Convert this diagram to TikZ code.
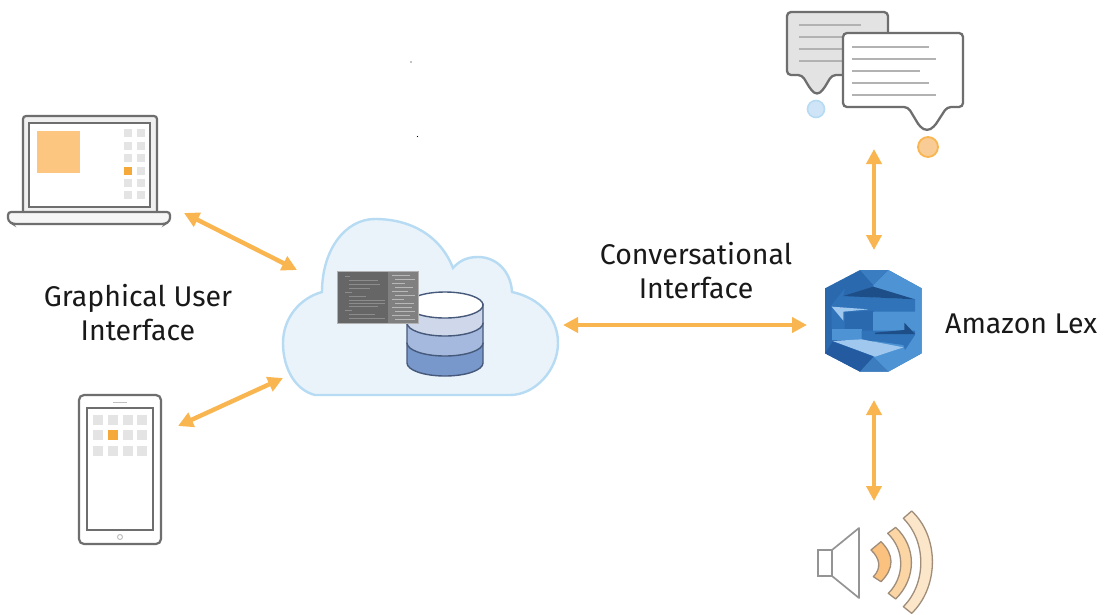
\documentclass[tikz,border=0pt]{standalone}
\usepackage{fontspec}
\setmainfont{Fira Sans}
\usetikzlibrary{arrows.meta}
\definecolor{arrowor}{HTML}{F9B650}
\definecolor{edgegray}{HTML}{6E6E6E}
\definecolor{cellgray}{HTML}{E4E4E4}
\definecolor{cellor}{HTML}{F6A93B}
\definecolor{cloudfill}{HTML}{EAF3FA}
\definecolor{cloudedge}{HTML}{B6DBF3}
\definecolor{dbedge}{HTML}{46597A}
\tikzset{
  biarrow/.style={draw=arrowor,line width=4.4pt,{Triangle[length=15pt,width=15pt]}-{Triangle[length=15pt,width=15pt]}},
  anchorpt/.style={inner sep=0pt,minimum size=0pt,outer sep=0pt},
  label text/.style={text=black!90,font=\fontsize{28.5}{33}\selectfont,align=center,inner sep=0pt},
  device/.style={draw=edgegray,line width=2.2pt,rounded corners=3pt},
  bubbleline/.style={draw=black!30,line width=1.6pt},
  wave/.style={draw=black!50!brown!60,line width=1.3pt,line join=round},
}
\begin{document}
\begin{tikzpicture}[x=1pt,y=-1pt]
\useasboundingbox (0,0) rectangle (1108,614);
\fill[white] (0,0) rectangle (1108,614);
% stray dots
\fill[black] (411,62) circle (0.7);
\fill[black] (417.5,136.5) circle (0.7);

% laptop
\draw[device,fill=black!6] (23,213) -- (23,116) -- (157,116) -- (157,213);
\draw[draw=edgegray,line width=2.2pt,fill=white] (29,123) rectangle (150,207);
\draw[draw=edgegray,line width=2.2pt,fill=black!4,rounded corners=3pt] (8,212) -- (170,212) -- (170,221) -- (165,224) -- (13,224) -- (8,221) -- cycle;
\fill[fill={rgb,255:red,253;green,198;blue,128}] (37,131) rectangle (80,173);
\foreach \y in {133,146,158,171,183,195}{
  \foreach \x in {128,141}{
    \fill[cellgray] (\x-4,\y-4) rectangle (\x+4,\y+4);
  }
}
\fill[cellor] (124,167) rectangle (132,175);
\node[anchorpt] (laptop) at (184,213) {};

% tablet
\draw[device,fill=white,rounded corners=5pt] (79,395) rectangle (161,544);
\draw[draw=edgegray,line width=2.2pt,fill=white] (87,408) rectangle (153,530);
\draw[draw=black!25,line width=1pt] (113,402) -- (127,402);
\draw[draw=black!25,line width=1pt] (120,537) circle (2.5);
\foreach \y in {420,435,451}{
  \foreach \x in {98,113,128,142}{
    \fill[cellgray] (\x-5,\y-5) rectangle (\x+5,\y+5);
  }
}
\fill[cellor] (108,430) rectangle (118,440);
\node[anchorpt] (tablet) at (178,426) {};

% cloud
\draw[draw=cloudedge,fill=cloudfill,line width=2.4pt]
 (315,395) .. controls (295,390) and (283,368) .. (283,343)
 .. controls (283,318) and (300,298) .. (322,292)
 .. controls (322,250) and (345,219) .. (375,219)
 .. controls (410,219) and (440,235) .. (453,268)
 .. controls (460,260) and (468,257) .. (478,257)
 .. controls (497,257) and (511,272) .. (512,292)
 .. controls (540,298) and (558,318) .. (558,343)
 .. controls (558,370) and (535,395) .. (510,395) -- cycle;
\node[anchorpt] (cloudnw) at (297,270) {};
\node[anchorpt] (cloudsw) at (283,378) {};
\node[anchorpt] (cloude) at (563,325) {};

% database
\begin{scope}[draw=dbedge,line width=1.4pt]
\filldraw[fill={rgb,255:red,120;green,152;blue,204}] (407,343) -- (407,363) arc[start angle=180,end angle=0,x radius=38,y radius=13] -- (483,343) -- cycle;
\filldraw[fill={rgb,255:red,164;green,185;blue,221}] (407,323) -- (407,343) arc[start angle=180,end angle=0,x radius=38,y radius=13] -- (483,323) -- cycle;
\filldraw[fill={rgb,255:red,207;green,216;blue,234}] (407,304) -- (407,323) arc[start angle=180,end angle=0,x radius=38,y radius=13] -- (483,304) -- cycle;
\filldraw[fill=white] (445,305) ellipse[x radius=38,y radius=13];
\end{scope}

% code panel
\fill[fill=black!60] (337,271) rectangle (388,323);
\fill[fill=black!50] (388,271) rectangle (418,323);
\draw[draw=black!30,line width=0.6pt] (337,271) rectangle (418,323);
\foreach \y/\a/\b in {276/345/350,280/349/378,284/349/380,288/349/370,292/345/352,296/349/366,300/349/385,303/349/385,306/349/378,310/345/352,314/349/375,318/349/385}{
  \draw[draw=black!45,line width=0.8pt] (\a,\y) -- (\b,\y);
}
\foreach \y/\a/\b in {275/392/410,279/395/415,283/392/405,287/395/413,291/392/408,295/395/415,299/392/404,303/395/414,307/392/412,311/395/415,315/392/410,319/395/415}{
  \draw[draw=black!28,line width=0.8pt] (\a,\y) -- (\b,\y);
}

% chat bubbles
\draw[draw=edgegray,line width=2.3pt,fill=black!11,rounded corners=4pt,line join=round]
 (802,75) -- (787,75) -- (787,12) -- (888,12) -- (888,75) -- (832,75) -- (823,90) -- (817,95) -- (811,90) -- cycle;
\draw[bubbleline] (799,25) -- (861,25);
\draw[bubbleline] (799,37) -- (861,37);
\draw[bubbleline] (799,49) -- (861,49);
\draw[bubbleline] (799,61) -- (861,61);
\draw[draw=edgegray,line width=2.3pt,fill=white,rounded corners=4pt]
 (908,107) -- (843,107) -- (843,33) -- (963,33) -- (963,107) -- (947,107) -- (934,127) -- (927,131) -- (920,127) -- cycle;
\draw[bubbleline] (852,47) -- (929,47);
\draw[bubbleline] (852,59) -- (936,59);
\draw[bubbleline] (852,71) -- (920,71);
\draw[bubbleline] (852,83) -- (929,83);
\draw[bubbleline] (852,95) -- (936,95);
\draw[draw=cloudedge,fill={rgb,255:red,208;green,228;blue,247},line width=1.6pt] (816,109) circle (8.5);
\draw[draw=arrowor,fill={rgb,255:red,248;green,204;blue,148},line width=1.8pt] (928,147) circle (10);
\node[anchorpt] (chat) at (874,149) {};

% Lex
\begin{scope}[shift={(810,260)},x=0.3333pt,y=-0.3333pt]
\fill[fill={rgb,255:red,43;green,105;blue,175}] (45,85) -- (150,30) -- (235,30) -- (335,85) -- (335,280) -- (235,335) -- (150,335) -- (45,280) -- cycle;
\fill[fill={rgb,255:red,78;green,148;blue,212}] (190,75) -- (235,30) -- (335,85) -- (335,280) -- (235,335) -- (190,290) -- cycle;
\fill[fill={rgb,255:red,58;green,125;blue,192}] (150,30) -- (235,30) -- (190,75) -- cycle;
\fill[fill={rgb,255:red,48;green,115;blue,185}] (100,108) -- (315,118) -- (315,155) -- (190,155) -- (190,208) -- (65,208) -- (65,135) -- (105,85) -- cycle;
\fill[fill={rgb,255:red,30;green,78;blue,135}] (100,108) -- (190,80) -- (315,118) -- cycle;
\fill[fill={rgb,255:red,160;green,200;blue,238}] (65,140) -- (175,148) -- (100,155) -- (100,182) -- cycle;
\fill[fill={rgb,255:red,43;green,105;blue,175}] (104,157) -- (190,152) -- (190,208) -- (104,208) -- cycle;
\fill[fill={rgb,255:red,78;green,148;blue,212}] (190,155) -- (315,155) -- (315,212) -- (190,212) -- cycle;
\fill[fill={rgb,255:red,78;green,148;blue,212}] (65,208) -- (155,208) -- (155,240) -- (65,240) -- cycle;
\fill[fill={rgb,255:red,48;green,115;blue,185}] (155,212) -- (315,212) -- (315,225) -- (285,270) -- (280,255) -- (155,238) -- cycle;
\fill[fill={rgb,255:red,30;green,78;blue,135}] (195,218) -- (283,210) -- (283,188) -- (315,222) -- (195,222) -- cycle;
\fill[fill={rgb,255:red,160;green,200;blue,238}] (68,243) -- (155,238) -- (280,262) -- (195,290) -- cycle;
\fill[fill={rgb,255:red,35;green,90;blue,160}] (150,335) -- (190,290) -- (68,245) -- (45,280) -- cycle;
\fill[fill={rgb,255:red,60;green,125;blue,192}] (150,335) -- (190,292) -- (235,335) -- cycle;
\end{scope}
\node[anchorpt] (lexw) at (807,325) {};
\node[anchorpt] (lextop) at (874,250) {};
\node[anchorpt] (lexbot) at (874,400) {};

% speaker
\node[anchorpt] (speaker) at (874,501) {};
\draw[draw=black!42,line width=1.7pt,line join=round,fill=white] (832,550) -- (859,528) -- (859,598) -- (832,576) -- cycle;
\draw[draw=black!42,line width=1.7pt,fill=white] (818,550) rectangle (832,576);
\begin{scope}[shift={(800,500)},x=0.3333pt,y=-0.3333pt]
\filldraw[wave,fill={rgb,255:red,251;green,194;blue,127}] (213,150) -- (243,125) .. controls (283,165) and (283,205) .. (243,245) -- (220,230) .. controls (245,205) and (240,175) .. (213,150) -- cycle;
\filldraw[wave,fill={rgb,255:red,251;green,213;blue,163}] (263,100) -- (287,82) .. controls (350,140) and (350,235) .. (287,297) -- (265,280) .. controls (315,230) and (315,150) .. (263,100) -- cycle;
\filldraw[wave,fill={rgb,255:red,252;green,230;blue,201}] (310,55) -- (335,33) .. controls (418,110) and (418,260) .. (335,340) -- (310,320) .. controls (380,250) and (380,125) .. (310,55) -- cycle;
\end{scope}

% connectors
\draw[biarrow] (laptop) -- (cloudnw);
\draw[biarrow] (tablet) -- (cloudsw);
\draw[biarrow] (cloude) -- (lexw);
\draw[biarrow] (chat) -- (lextop);
\draw[biarrow] (lexbot) -- (speaker);

% labels
\node[label text] (gui) at (138,312.5) {Graphical User\\[1pt]Interface};
\node[label text] (conv) at (696,271) {Conversational\\[1pt]Interface};
\node[label text,anchor=west] (lex) at (945,324) {Amazon Lex};
\end{tikzpicture}
\end{document}
